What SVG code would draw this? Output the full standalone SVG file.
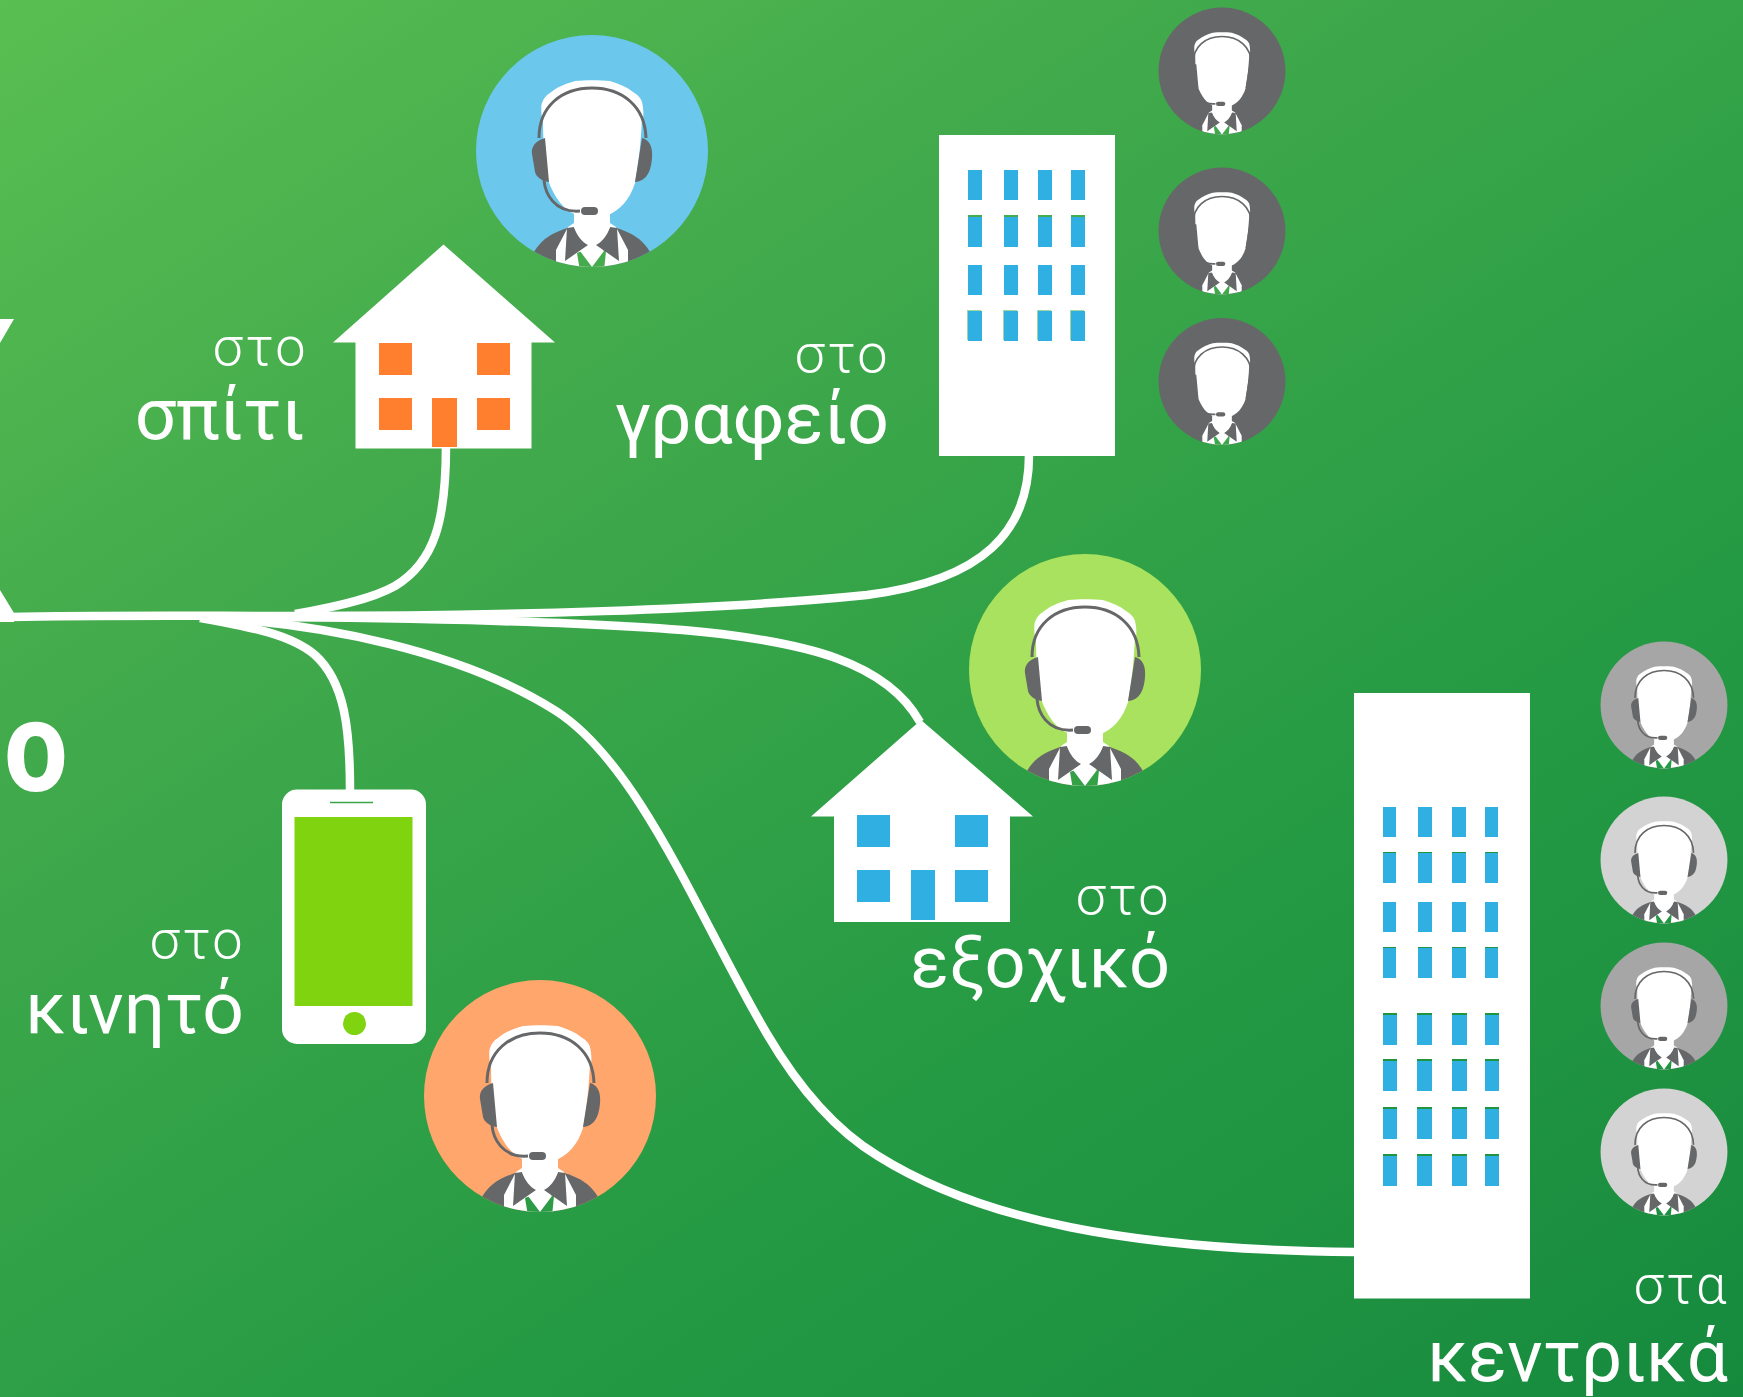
<svg xmlns="http://www.w3.org/2000/svg" width="1743" height="1397" viewBox="0 0 1743 1397">
<style>
.w{fill:#fff}.o{fill:#ff7f2e}.b{fill:#2fafe2}
.s{font:300 54px Roboto,"Noto Sans",sans-serif;fill:#fff;text-anchor:end;letter-spacing:2.500px}
.l{font:400 73px Roboto,"Noto Sans",sans-serif;fill:#fff;text-anchor:end}
.c{fill:none;stroke:#fff;stroke-width:8.500}
.g{fill:#666769}
</style>
<defs>
<linearGradient id="bg" gradientUnits="userSpaceOnUse" x1="0" y1="0" x2="1162" y2="1775"><stop offset="0" stop-color="#59bf52"/><stop offset=".28" stop-color="#43ab4c"/><stop offset=".65" stop-color="#269b44"/><stop offset=".93" stop-color="#1a8e3f"/><stop offset="1" stop-color="#15893d"/></linearGradient>
<clipPath id="cc"><circle r="116"/></clipPath>
<g id="agent">
<circle r="116"/>
<g clip-path="url(#cc)">
<path class="g" d="M-60,105C-52,88-40,82-22,76H22C40,82 52,88 60,105V125H-60Z"/>
<path class="w" d="M-24,76L-36,99V125H36V99L24,76L18,72H-18Z"/>
<path fill="currentColor" d="M-15,102L-12,120H12L14,100L0,96Z"/>
<path class="w" d="M-12,100L0,90L12,100L0,116Z"/>
<path class="g" d="M-25,77L-18,76C-15,85-10,91-4,94L-27,110ZM25,77L18,76C15,85 10,91 4,94L27,110Z"/>
<path class="w" d="M-18,55H18V76C14,86 6,92 0,96C-6,92-14,86-18,76Z"/>
<path class="w" d="M-50,-31C-51,-40-51,-46-50,-48C-48,-53-46,-56-42,-58C-35,-64-27,-67-17,-70C-6,-71 7,-71 18,-70C27,-67 35,-64 41,-59C46,-56 49,-53 50,-49C51,-45 52,-38 51,-31Z"/>
<path class="w" d="M-49,-34C-49,-10-48,10-44,29C-38,46-28,60-15,64C-5,67 5,67 15,64C28,60 38,48 43,32C47,10 49,-10 50,-34Z"/>
<path class="g" d="M-47,-13C-57,-10-61,-4-60,3L-57,21C-56,26-50,30-43,31ZM50,-13C58,-11 61,-3 60,7C59,20 55,30 43,31Z"/>
<path d="M-53,-13C-53,-45-30,-63 0,-63C30,-63 53,-45 54,-13" fill="none" stroke="#666769" stroke-width="3"/>
<path d="M-48,29C-47,42-38,62-12,60" fill="none" stroke="#666769" stroke-width="3"/>
<rect class="g" x="-11" y="56" width="17" height="8" rx="4"/>
</g>
</g>
<g id="w1"><rect x="968" width="14" height="30"/><rect x="1004" width="14" height="30"/><rect x="1038" width="14" height="30"/><rect x="1071" width="14" height="30"/></g>
<g id="w2"><rect x="1383" width="13" height="30"/><rect x="1418" width="14" height="30"/><rect x="1452" width="14" height="30"/><rect x="1485" width="13" height="30"/></g>
<g id="w3"><rect x="1383" width="14" height="30"/><rect x="1417" width="15" height="30"/><rect x="1452" width="15" height="30"/><rect x="1485" width="14" height="30"/></g>
</defs>
<rect width="1743" height="1397" fill="url(#bg)"/>
<g id="connectors">
<path class="c" d="M10,617C100,615 200,616 300,616C500,616 720,610 867,595C985,580 1029,530 1029,455"/>
<path class="c" d="M295,614C330,608 370,600 395,586C435,562 446,520 446,445"/>
<path class="c" d="M200,617C400,617 620,622 722,634C800,644 885,660 920,722"/>
<path class="c" d="M200,618C250,627 290,634 315,655C345,682 350,730 350,790"/>
<path class="c" d="M215,618C320,624 460,650 556,711C640,765 700,920 767,1034C800,1090 835,1130 878,1156C980,1220 1130,1250 1354,1252"/>
</g>
<g id="edge-marks">
<path class="w" d="M0,319H14L0,343Z"/>
<path class="w" d="M0,590L14,613V622H0Z"/>
<text transform="translate(2.500,791) scale(.87,1)" style="font:700 123px 'Noto Sans',sans-serif;fill:#fff">ο</text>
</g>
<g id="agent-home"><use href="#agent" transform="translate(592,151)" fill="#6cc7ec" color="#46ab4c"/></g>
<g id="node-home">
<path class="w" d="M443.500,244.500L555,342.500H531.500V448.500H355.500V342.500H333Z"/>
<rect class="o" x="379" y="343" width="33" height="32"/><rect class="o" x="477" y="343" width="33" height="32"/>
<rect class="o" x="379" y="398" width="33" height="32"/><rect class="o" x="477" y="398" width="33" height="32"/>
<rect class="o" x="432" y="398" width="25" height="49"/>
<text class="s" x="308" y="365">στο</text><text class="l" x="305" y="439">σπίτι</text>
</g>
<g id="node-office">
<rect class="w" x="939" y="135" width="176" height="321"/>
<g fill="#46ab4c"><use href="#w1" y="215"/></g>
<g fill="#9fd6a2"><use href="#w1" y="310" transform="translate(-1,0)"/></g>
<g class="b"><use href="#w1" y="170"/><use href="#w1" y="217"/><use href="#w1" y="265"/><use href="#w1" y="311"/></g>
<text class="s" x="890" y="372">στο</text><text class="l" x="889" y="443">γραφείο</text>
</g>
<g id="agent-office-1"><use href="#agent" transform="translate(1222,71) scale(.547)" fill="#666769" color="#40a84b"/></g>
<g id="agent-office-2"><use href="#agent" transform="translate(1222,231) scale(.547)" fill="#666769" color="#40a84b"/></g>
<g id="agent-office-3"><use href="#agent" transform="translate(1222,381.500) scale(.547)" fill="#666769" color="#3da74a"/></g>
<g id="agent-country"><use href="#agent" transform="translate(1085,670)" fill="#a9e25e" color="#35a147"/></g>
<g id="node-country">
<path class="w" d="M921,720L1033,816.500H1010V922H834V816.500H811Z"/>
<rect class="b" x="857" y="815" width="33" height="32"/><rect class="b" x="955" y="815" width="33" height="32"/>
<rect class="b" x="857" y="870" width="33" height="32"/><rect class="b" x="955" y="870" width="33" height="32"/>
<rect class="b" x="911" y="870" width="24" height="50"/>
<text class="s" x="1171" y="914">στο</text><text class="l" x="1170" y="987" style="font-size:72px">εξοχικό</text>
</g>
<g id="node-mobile">
<rect class="w" x="282" y="789.500" width="144" height="254.500" rx="15"/>
<rect x="294.500" y="817" width="118" height="189" fill="#7fd30f"/>
<circle cx="354.500" cy="1023.500" r="11.500" fill="#7fd30f"/>
<path d="M330,802.500H373" stroke="#3aa64a" stroke-width="1.500"/>
<text class="s" x="245" y="958">στο</text><text class="l" x="244" y="1033">κινητό</text>
</g>
<g id="agent-mobile"><use href="#agent" transform="translate(540,1096)" fill="#ffa66c" color="#2c9b45"/></g>
<g id="node-hq">
<rect class="w" x="1354" y="693" width="176" height="605.500"/>
<g fill="#1f9441"><use href="#w2" y="852"/><use href="#w2" y="947"/><use href="#w3" y="1013"/><use href="#w3" y="1059"/><use href="#w3" y="1107"/><use href="#w3" y="1154"/></g>
<g class="b"><use href="#w2" y="807"/><use href="#w2" y="853"/><use href="#w2" y="902"/><use href="#w2" y="948"/>
<use href="#w3" y="1015"/><use href="#w3" y="1061"/><use href="#w3" y="1109"/><use href="#w3" y="1156"/></g>
<text class="s" x="1729" y="1303">στα</text><text class="l" x="1728" y="1381">κεντρικά</text>
</g>
<g id="agent-hq-1"><use href="#agent" transform="translate(1664,705) scale(.547)" fill="#a6a6a6" color="#259a45"/></g>
<g id="agent-hq-2"><use href="#agent" transform="translate(1664,860) scale(.547)" fill="#d3d3d3" color="#229643"/></g>
<g id="agent-hq-3"><use href="#agent" transform="translate(1664,1006) scale(.547)" fill="#a6a6a6" color="#1f9441"/></g>
<g id="agent-hq-4"><use href="#agent" transform="translate(1664,1152) scale(.547)" fill="#d3d3d3" color="#1c8f40"/></g>
</svg>
